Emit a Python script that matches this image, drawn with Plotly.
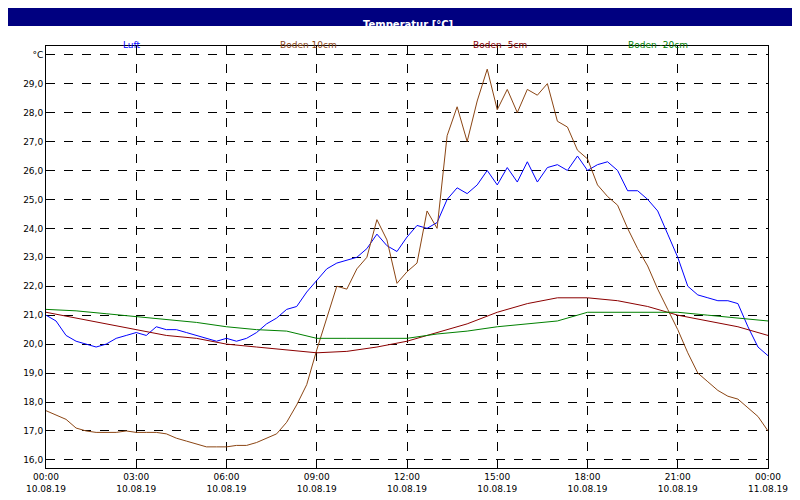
import plotly.graph_objects as go

# time in hours, 20-minute steps for the fast series
t20 = [i / 3 for i in range(73)]
t60 = list(range(25))

luft = [21.0, 20.8, 20.3, 20.1, 20.0, 19.9, 20.0, 20.2, 20.3, 20.4, 20.3, 20.6, 20.5, 20.5, 20.4,
        20.3, 20.2, 20.1, 20.2, 20.1, 20.2, 20.4, 20.7, 20.9, 21.2, 21.3, 21.8, 22.2, 22.6, 22.8,
        22.9, 23.0, 23.3, 23.8, 23.4, 23.2, 23.7, 24.1, 24.0, 24.2, 25.0, 25.4, 25.2, 25.5, 26.0,
        25.5, 26.1, 25.6, 26.3, 25.6, 26.1, 26.2, 26.0, 26.5, 26.0, 26.2, 26.3, 26.0, 25.3, 25.3,
        25.0, 24.6, 23.8, 23.0, 22.0, 21.7, 21.6, 21.5, 21.5, 21.4, 20.6, 19.9, 19.6]
boden10 = [17.7, 17.55, 17.4, 17.1, 17.0, 16.95, 16.95, 16.95, 17.0, 16.95, 16.95, 16.95, 16.9,
           16.75, 16.65, 16.55, 16.45, 16.45, 16.45, 16.5, 16.5, 16.6, 16.75, 16.9, 17.3, 17.9,
           18.6, 19.8, 20.9, 22.0, 21.9, 22.6, 23.0, 24.3, 23.6, 22.1, 22.5, 22.8, 24.6, 24.0,
           27.2, 28.2, 27.0, 28.4, 29.5, 28.1, 28.8, 28.0, 28.8, 28.6, 29.0, 27.7, 27.5, 26.7,
           26.4, 25.5, 25.1, 24.8, 24.0, 23.3, 22.7, 21.9, 21.2, 20.5, 19.7, 19.0, 18.7, 18.4,
           18.2, 18.1, 17.8, 17.5, 17.0]
boden_5 = [21.1, 20.9, 20.7, 20.5, 20.3, 20.2, 20.0, 19.9, 19.8, 19.7, 19.75, 19.9, 20.1, 20.4,
           20.7, 21.1, 21.4, 21.6, 21.6, 21.5, 21.3, 21.0, 20.8, 20.6, 20.3]
boden_20 = [21.2, 21.15, 21.05, 20.95, 20.85, 20.75, 20.6, 20.5, 20.45, 20.2, 20.2, 20.2, 20.2,
            20.35, 20.45, 20.6, 20.7, 20.8, 21.1, 21.1, 21.1, 21.1, 21.0, 20.9, 20.8]

names = ["Luft", "Boden 10cm", "Boden -5cm", "Boden -20cm"]
colors = ["#0000ff", "#8b4513", "#8b0000", "#008000"]
name_x = [113, 300, 492, 682]  # pixel centres of the header labels

x_ticks = list(range(0, 25, 3))
x_labels = ["00:00<br>10.08.19", "03:00<br>10.08.19", "06:00<br>10.08.19", "09:00<br>10.08.19",
            "12:00<br>10.08.19", "15:00<br>10.08.19", "18:00<br>10.08.19", "21:00<br>10.08.19",
            "00:00<br>11.08.19"]
y_ticks = list(range(16, 31))
y_labels = ["%d,0" % v for v in range(16, 30)] + ["°C"]

fig = go.Figure()
for x, y, c in [(t20, luft, colors[0]), (t20, boden10, colors[1]),
                (t60, boden_5, colors[2]), (t60, boden_20, colors[3])]:
    fig.add_trace(go.Scatter(x=x, y=y, mode="lines", line=dict(color=c, width=1), showlegend=False))

ann = [dict(text="<b>Temperatur [°C]</b>", x=400, y=9, xref="paper", yref="paper",
            showarrow=False, font=dict(color="white", size=10))]
for n, c, px in zip(names, colors, name_x):
    ann.append(dict(text=n, x=px, y=30, showarrow=False, font=dict(color=c, size=9)))
# convert pixel positions to paper coords (plot area 38..760 x 38..460)
for a in ann:
    a["x"] = (a["x"] - 38) / 722
    a["y"] = (460 - a["y"]) / 422
    a["xref"] = "paper"
    a["yref"] = "paper"

axis_common = dict(showline=True, linecolor="black", linewidth=1, mirror=True, showgrid=True,
                   gridcolor="black", griddash="dash", gridwidth=1, zeroline=False, ticks="")
fig.update_layout(
    width=800, height=500, margin=dict(l=38, r=40, t=38, b=40),
    paper_bgcolor="white", plot_bgcolor="white",
    font=dict(family="DejaVu Sans", size=9, color="black"),
    annotations=ann,
    shapes=[dict(type="rect", xref="paper", yref="paper", x0=-38 / 722, x1=1 + 40 / 722,
                 y0=(460 - 18) / 422, y1=460 / 422,
                 fillcolor="#000080", line=dict(width=0), layer="below")],
    xaxis=dict(range=[0, 24], tickvals=x_ticks, ticktext=x_labels, **axis_common),
    yaxis=dict(range=[15.72, 30.3], tickvals=y_ticks, ticktext=y_labels, **axis_common),
)
fig.write_html("out.html")
